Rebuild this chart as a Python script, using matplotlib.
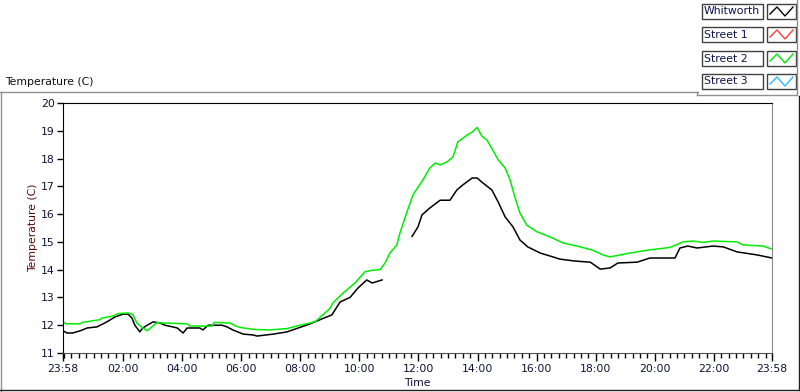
import numpy as np
import matplotlib
matplotlib.use("Agg")
import matplotlib.pyplot as plt
from matplotlib.lines import Line2D
from matplotlib.patches import Rectangle

# ---- data (minutes after 23:58 start, temperature in C) ----
street2_min = [0, 6, 35, 39, 75, 79, 102, 112, 132, 142, 150, 162, 171, 181, 191, 203,
               252, 258, 303, 307, 339, 351, 360, 386, 420, 455, 481, 502, 514, 526,
               542, 548, 569, 593, 613, 628, 644, 654, 664, 678, 684, 699, 711, 731,
               745, 756, 766, 780, 792, 802, 821, 831, 841, 851, 861, 873, 884, 898,
               908, 918, 928, 942, 963, 989, 1016, 1044, 1076, 1097, 1111, 1146, 1186,
               1233, 1259, 1280, 1300, 1320, 1369, 1381, 1422, 1440]
street2_val = [12.12, 12.05, 12.05, 12.1, 12.2, 12.26, 12.33, 12.42, 12.44, 12.38, 12.08,
               11.9, 11.8, 11.95, 12.1, 12.08, 12.05, 11.97, 11.97, 12.1, 12.08, 11.97,
               11.92, 11.85, 11.83, 11.88, 12.0, 12.08, 12.15, 12.35, 12.6, 12.8, 13.16,
               13.52, 13.92, 13.98, 14.0, 14.24, 14.6, 14.89, 15.3, 16.1, 16.7, 17.23,
               17.66, 17.84, 17.77, 17.88, 18.06, 18.6, 18.85, 18.95, 19.12, 18.8, 18.67,
               18.3, 17.95, 17.66, 17.23, 16.6, 16.04, 15.6, 15.36, 15.18, 14.96, 14.85,
               14.7, 14.53, 14.46, 14.58, 14.7, 14.8, 15.0, 15.03, 14.98, 15.03, 15.0,
               14.89, 14.85, 14.74]

whit_min = [0, 8, 20, 35, 49, 69, 89, 106, 122, 132, 140, 146, 156, 162, 171, 183, 197,
            207, 223, 232, 244, 252, 278, 284, 295, 323, 333, 345, 366, 386, 394, 427,
            455, 481, 502, 522, 536, 546, 563, 583, 599, 617, 628, 648, 680, 709, 721,
            729, 745, 766, 786, 800, 812, 831, 841, 853, 871, 884, 898, 914, 928, 944,
            969, 995, 1009, 1040, 1071, 1091, 1111, 1127, 1166, 1192, 1243, 1253, 1269,
            1288, 1320, 1341, 1369, 1410, 1440]
whit_val = [11.8, 11.72, 11.72, 11.8, 11.9, 11.94, 12.12, 12.3, 12.4, 12.4, 12.26, 12.0,
            11.76, 11.9, 12.0, 12.12, 12.08, 12.0, 11.94, 11.9, 11.72, 11.9, 11.9, 11.83,
            12.0, 12.0, 11.94, 11.83, 11.68, 11.65, 11.61, 11.68, 11.76, 11.92, 12.05,
            12.2, 12.3, 12.37, 12.84, 13.0, 13.34, 13.63, 13.52, 13.63, np.nan, 15.2,
            15.54, 15.97, 16.22, 16.5, 16.5, 16.87, 17.05, 17.3, 17.3, 17.12, 16.87,
            16.43, 15.9, 15.54, 15.07, 14.82, 14.6, 14.46, 14.38, 14.31, 14.27, 14.02,
            14.06, 14.24, 14.27, 14.42, 14.42, 14.78, 14.85, 14.78, 14.85, 14.82, 14.64,
            14.53, 14.42]

xtick_min = [0, 122, 242, 362, 482, 602, 722, 842, 962, 1082, 1202, 1322, 1440]
xtick_labels = ["23:58", "02:00", "04:00", "06:00", "08:00", "10:00", "12:00",
                "14:00", "16:00", "18:00", "20:00", "22:00", "23:58"]
yticks = [11, 12, 13, 14, 15, 16, 17, 18, 19, 20]

legend_names = ["Whitworth", "Street 1", "Street 2", "Street 3"]
legend_colors = ["#000000", "#ff3a3a", "#00e600", "#33b5ff"]

# ---- figure ----
plt.rcParams['font.family'] = ['DejaVu Sans']
W, H = 800, 392
fig = plt.figure(figsize=(8, 3.92), dpi=100)
fig.patch.set_facecolor("white")

def fx(px):
    return px / W

def fy(py):
    return 1 - py / H

ax = fig.add_axes([fx(63), fy(353), fx(772) - fx(63), fy(103) - fy(353)])
ax.plot(whit_min, whit_val, color="#000000", lw=1.1)
ax.plot(street2_min, street2_val, color="#00ee00", lw=1.1)

ax.set_xlim(0, 1440)
ax.set_ylim(11, 20)
ax.set_xticks(xtick_min)
ax.set_xticklabels(xtick_labels)
ax.set_xticks(np.arange(2, 1440, 15), minor=True)
ax.set_yticks(yticks)
ax.set_yticklabels([str(v) for v in yticks])

tc = "#10103a"
ax.tick_params(axis="x", which="major", length=6, width=1, pad=2, labelsize=7.8, colors="black", labelcolor=tc)
ax.tick_params(axis="x", which="minor", length=3.5, width=1, colors="black")
ax.tick_params(axis="y", which="major", length=4, width=1, pad=2, labelsize=7.8, colors="black", labelcolor=tc)
for s in ["left", "top"]:
    ax.spines[s].set_color("black")
ax.spines["right"].set_color("#888888")
ax.spines["bottom"].set_color("#555555")

ax.set_xlabel("Time", fontsize=7.8, color=tc, labelpad=3)
ax.set_ylabel("Temperature (C)", fontsize=7.8, color="#5a0a0a", labelpad=2)

# title above frame
fig.text(fx(5), fy(82), "Temperature (C)", fontsize=7.8, color="#101010", va="center", ha="left")

# outer frame lines
fig.add_artist(Line2D([fx(0), fx(698)], [fy(92), fy(92)], color="#909090", lw=1))
fig.add_artist(Line2D([fx(1), fx(1)], [fy(92), fy(391)], color="#909090", lw=1))
fig.add_artist(Line2D([fx(0), fx(799)], [fy(390), fy(390)], color="#202020", lw=1))
fig.add_artist(Line2D([fx(798.5), fx(798.5)], [fy(96), fy(390)], color="#202020", lw=1))
# legend frame
fig.add_artist(Line2D([fx(697), fx(797)], [fy(95), fy(95)], color="#909090", lw=1))
fig.add_artist(Line2D([fx(797), fx(797)], [fy(0), fy(95)], color="#909090", lw=1))
fig.add_artist(Line2D([fx(697), fx(697)], [fy(92), fy(95)], color="#909090", lw=1))

rows = [(4, 19), (27, 42), (51, 66), (74, 89)]
for (y0, y1), name, col in zip(rows, legend_names, legend_colors):
    fig.add_artist(Rectangle((fx(702), fy(y1)), fx(763) - fx(702), fy(y0) - fy(y1),
                             fill=False, edgecolor="#404040", lw=1))
    fig.add_artist(Rectangle((fx(767), fy(y1)), fx(796) - fx(767), fy(y0) - fy(y1),
                             fill=False, edgecolor="#404040", lw=1))
    fig.text(fx(704), fy((y0 + y1) / 2), name, fontsize=7.8, color="#10104a", va="center", ha="left")
    sx = [770, 777, 785, 793]
    sy = [y1 - 5, y0 + 3, y1 - 3, y0 + 3]
    fig.add_artist(Line2D([fx(v) for v in sx], [fy(v) for v in sy], color=col, lw=1))

fig.savefig("out.png", dpi=100)
